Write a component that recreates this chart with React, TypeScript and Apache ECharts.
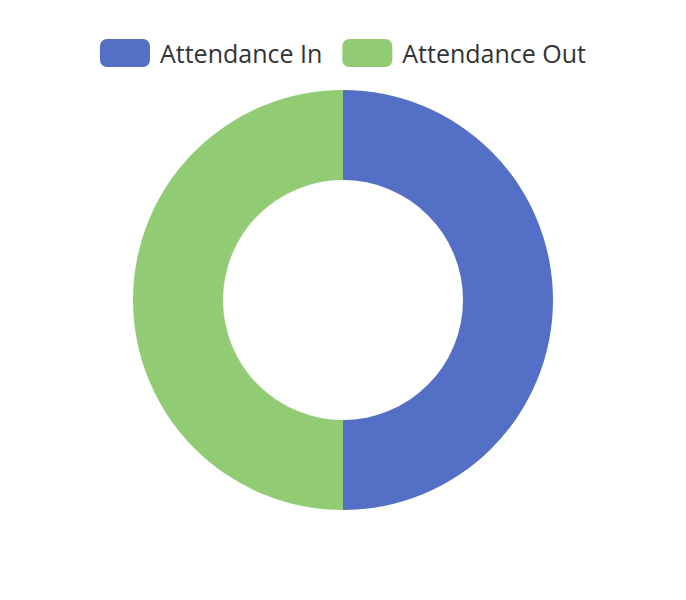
import React, { useEffect, useRef } from "react";
import * as echarts from "echarts";

const categories = ["Attendance In", "Attendance Out"];
const values = [50, 50];
const colors = ["#5470c6", "#91cc75"];

export default function App() {
  const ref = useRef<HTMLDivElement>(null);
  useEffect(() => {
    if (!ref.current) return;
    const chart = echarts.init(ref.current, null, { renderer: "svg" });
    chart.setOption({
      animation: false,
      color: colors,
      legend: {
        top: 34,
        left: "center",
        itemWidth: 50,
        itemHeight: 28,
        itemGap: 20,
        data: categories,
        textStyle: {
          fontSize: 25,
          color: "#333",
          fontFamily: "Open Sans",
          padding: [0, 0, 0, 5],
        },
      },
      series: [
        {
          type: "pie",
          radius: ["40%", "70%"],
          center: ["50%", "50%"],
          label: { show: false },
          labelLine: { show: false },
          data: categories.map((name, i) => ({ name, value: values[i] })),
        },
      ],
    });
    return () => chart.dispose();
  }, []);
  return (
    <div
      ref={ref}
      style={{ position: "absolute", left: 0, top: 0, width: 686, height: 600 }}
    />
  );
}
